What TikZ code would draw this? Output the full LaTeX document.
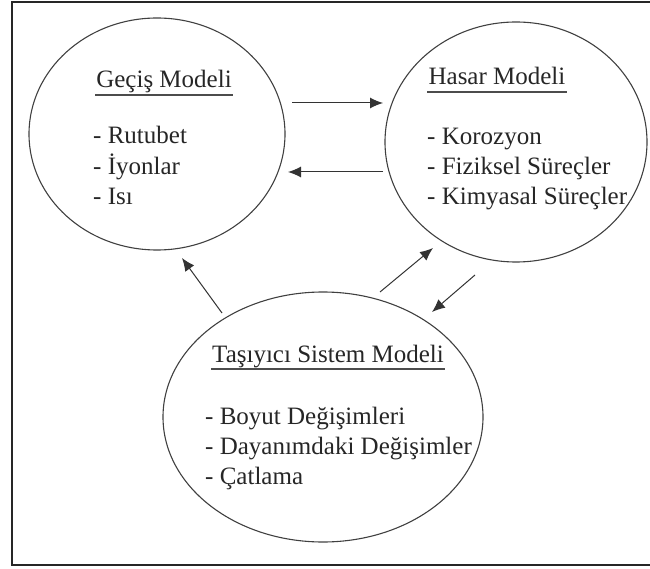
\documentclass[tikz,border=0pt]{standalone}
\usepackage{fontspec}
\setmainfont{Liberation Serif}
\usetikzlibrary{shapes.geometric, arrows.meta}

\begin{document}
\begin{tikzpicture}[x=1pt, y=-1pt,
    model/.style = {draw=black!75, ellipse, line width=1.1pt, inner sep=0pt},
    title/.style = {font=\fontsize{25}{30}\selectfont, text=black!85, inner xsep=1pt, inner ysep=0pt, text depth=7pt, anchor=base},
    item/.style = {font=\fontsize{25}{30}\selectfont, text=black!85, inner sep=0pt, anchor=base west},
    uline/.style = {draw=black!70, line width=1.6pt},
    arr/.style = {draw=black!80, line width=1pt, -{Latex[length=13pt, width=11pt]}}]

    \useasboundingbox (0,0) rectangle (650,569);
    \draw[line width=1.6pt, black!85] (652,2) -- (12,2) -- (12,565) -- (652,565);

    %--------------------------------------------

    \node[model, minimum width=256, minimum height=232] (gecis) at (157,134) {};
    \node[title] (gecisT) at (164,88) {Geçiş Modeli};
    \draw[uline] (gecisT.south west) -- (gecisT.south east);
    \node[item] (g1) at (93,144) {- Rutubet};
    \node[item] (g2) at (93,175) {- İyonlar};
    \node[item] (g3) at (93,205) {- Isı};

    %--------------------------------------------

    \node[model, minimum width=262, minimum height=240] (hasar) at (516,142) {};
    \node[title] (hasarT) at (497,85) {Hasar Modeli};
    \draw[uline] (hasarT.south west) -- (hasarT.south east);
    \node[item] (h1) at (427,145) {- Korozyon};
    \node[item] (h2) at (427,175) {- Fiziksel Süreçler};
    \node[item] (h3) at (427,205) {- Kimyasal Süreçler};

    %--------------------------------------------

    \node[model, minimum width=320, minimum height=250] (tasiyici) at (323,417) {};
    \node[title] (tasiyiciT) at (328,362) {Taşıyıcı Sistem Modeli};
    \draw[uline] (tasiyiciT.south west) -- (tasiyiciT.south east);
    \node[item] (t1) at (205,424) {- Boyut Değişimleri};
    \node[item] (t2) at (205,454) {- Dayanımdaki Değişimler};
    \node[item] (t3) at (205,484) {- Çatlama};

    %--------------------------------------------

    \coordinate (a1) at (292,103);
    \coordinate (b1) at (383,103);
    \coordinate (a2) at (383,172);
    \coordinate (b2) at (288,172);
    \coordinate (a3) at (222,313);
    \coordinate (b3) at (182,258);
    \coordinate (a4) at (380,292);
    \coordinate (b4) at (433,248);
    \coordinate (a5) at (475,275);
    \coordinate (b5) at (432,312);
    \draw[arr] (a1) -- (b1);
    \draw[arr] (a2) -- (b2);
    \draw[arr] (a3) -- (b3);
    \draw[arr] (a4) -- (b4);
    \draw[arr] (a5) -- (b5);

\end{tikzpicture}
\end{document}
